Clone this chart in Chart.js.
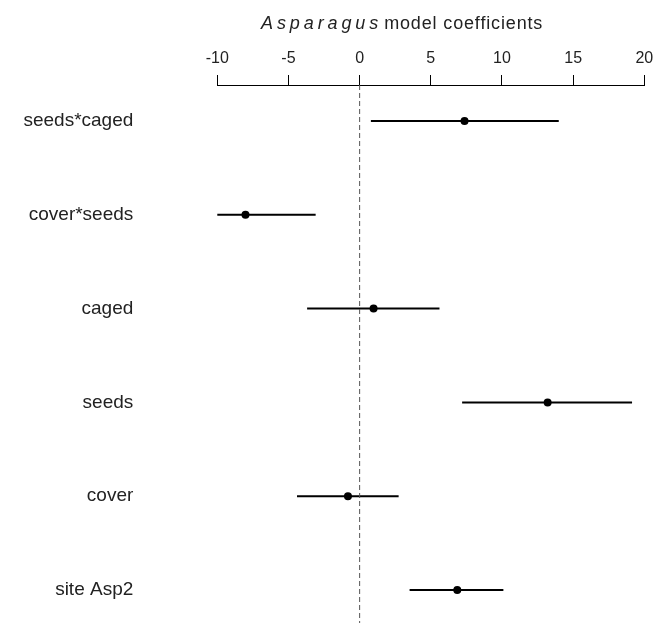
<!DOCTYPE html>
<html>
<head>
<meta charset="utf-8">
<script src="https://cdn.jsdelivr.net/npm/chart.js@4"></script>
<style>
  body { margin: 0; background: #fff; }
  #wrap { position: relative; width: 668px; height: 623px; }
  #title {
    position: absolute; left: 261px; top: 13px;
    font-family: "Liberation Sans", Arial, sans-serif;
    font-size: 18px; line-height: 20px; color: #222; white-space: nowrap;
  }
  #title i { letter-spacing: 3.9px; }
  #title span { letter-spacing: 0.85px; margin-left: 2px; }
</style>
</head>
<body>
<div id="wrap">
  <canvas id="coefChart" width="668" height="623"></canvas>
  <div id="title"><i>Asparagus</i><span>model coefficients</span></div>
</div>
<script>
// model terms, top to bottom
const terms = ['seeds*caged', 'cover*seeds', 'caged', 'seeds', 'cover', 'site Asp2'];
const estimate = [7.37, -8.02, 0.98, 13.21, -0.82, 6.86];
const lower = [0.79, -13.1, -3.69, 7.2, -4.4, 3.51];
const upper = [13.99, -3.09, 5.61, 19.14, 2.74, 10.1];
const xTicks = [-10, -5, 0, 5, 10, 15, 20];

const Y_MIN = -0.384;
const Y_MAX = 5.352;

// interval segments, broken by null points
const ciPoints = [];
terms.forEach((t, i) => {
  ciPoints.push({ x: lower[i], y: i });
  ciPoints.push({ x: upper[i], y: i });
  ciPoints.push({ x: null, y: null });
});

const estPoints = estimate.map((v, i) => ({ x: v, y: i }));

const ctx = document.getElementById('coefChart').getContext('2d');
new Chart(ctx, {
  type: 'scatter',
  data: {
    datasets: [{
      // dashed zero line
      data: [{ x: 0, y: Y_MIN }, { x: 0, y: Y_MAX }],
      showLine: true,
      borderColor: '#555',
      borderWidth: 1,
      borderDash: [5, 3],
      pointRadius: 0,
      clip: false
    }, {
      data: ciPoints,
      showLine: true,
      spanGaps: false,
      borderColor: '#000',
      borderWidth: 2,
      pointRadius: 0
    }, {
      data: estPoints,
      pointRadius: 4,
      pointBackgroundColor: '#000',
      pointBorderColor: '#000',
      pointBorderWidth: 0
    }]
  },
  options: {
    responsive: false,
    animation: false,
    layout: { autoPadding: false, padding: { top: 0, right: 23.7, bottom: 0, left: 0 } },
    plugins: {
      legend: { display: false },
      tooltip: { enabled: false }
    },
    scales: {
      x: {
        type: 'linear',
        position: 'top',
        min: -10,
        max: 20,
        afterBuildTicks: (scale) => { scale.ticks = xTicks.map(v => ({ value: v })); },
        afterFit: (scale) => { scale.height = 85; },
        ticks: {
          color: '#222',
          padding: 7,
          font: { family: '"Liberation Sans", Arial, sans-serif', size: 16 }
        },
        grid: {
          drawOnChartArea: false,
          drawTicks: true,
          tickLength: 10,
          color: '#000',
          lineWidth: 1
        },
        border: { display: true, color: '#000', width: 1 }
      },
      y: {
        type: 'linear',
        reverse: true,
        min: Y_MIN,
        max: Y_MAX,
        afterBuildTicks: (scale) => { scale.ticks = terms.map((t, i) => ({ value: i })); },
        afterFit: (scale) => {
          scale.width = 217.3;
          // tick padding should not push the plot area down
          scale.paddingTop = 0;
          scale.paddingBottom = 0;
        },
        ticks: {
          color: '#222',
          padding: 84,
          callback: (v) => terms[v],
          font: { family: '"Liberation Sans", Arial, sans-serif', size: 19 }
        },
        grid: { display: false, drawTicks: false },
        border: { display: false }
      }
    }
  }
});
</script>
</body>
</html>
